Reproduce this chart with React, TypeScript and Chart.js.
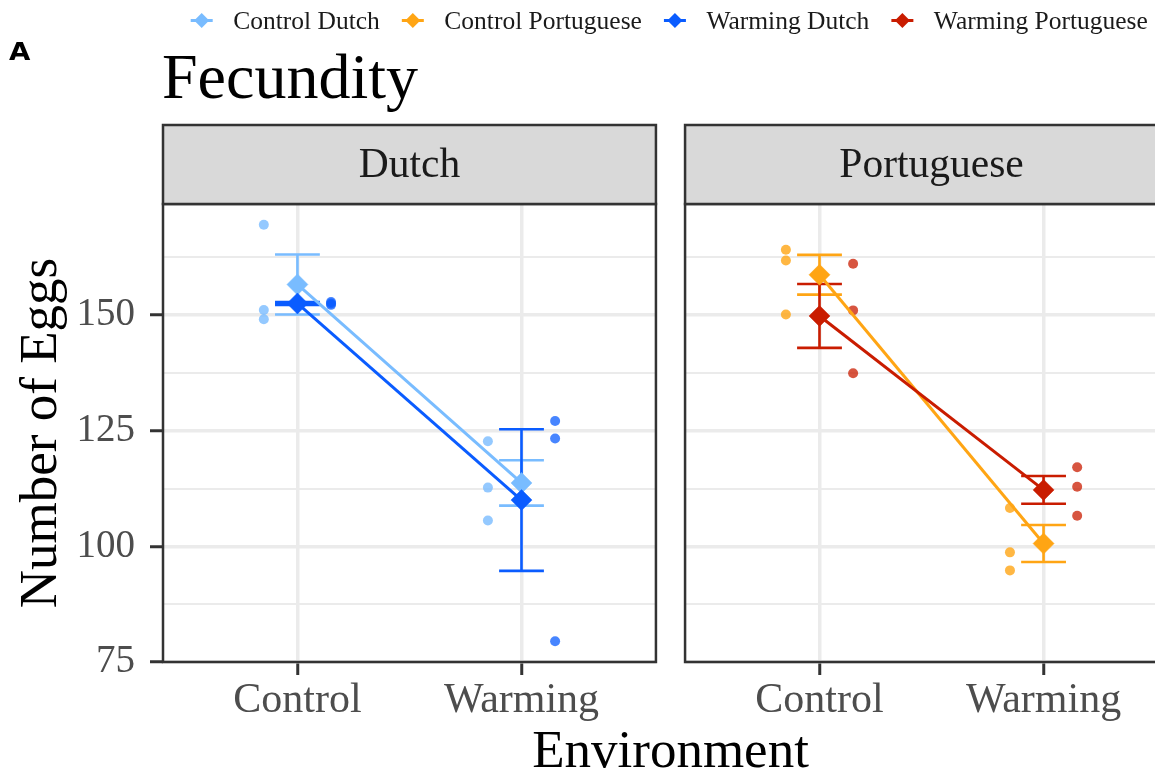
import React, { useEffect, useRef } from 'react';
import { Chart, registerables } from 'chart.js';

Chart.register(...registerables);

// Facets (populations) and x categories (test environment)
const populations = ['Dutch', 'Portuguese'];
const environments = ['Control', 'Warming'];

// y-axis breaks and limits
const yMajorTicks = [75, 100, 125, 150];
const yMinorTicks = [87.5, 112.5, 137.5, 162.5];
const yLimits = [75, 174];

// Series (selection regime x population), in legend order
const seriesNames = ['Control Dutch', 'Control Portuguese', 'Warming Dutch', 'Warming Portuguese'];
const seriesPopulations = ['Dutch', 'Portuguese', 'Dutch', 'Portuguese'];
const seriesRegimes = ['Control', 'Control', 'Warming', 'Warming'];
const seriesColors = ['#79BCFF', '#FFA514', '#0A5CFF', '#C91C00'];
const seriesDotColors = [
  'rgba(121,188,255,0.8)',
  'rgba(255,165,20,0.8)',
  'rgba(10,92,255,0.75)',
  'rgba(201,28,0,0.75)',
];

// Mean number of eggs +/- SE, per environment (Control, Warming)
const controlDutchMean = [156.6, 113.7];
const controlDutchSE = [6.5, 4.9];
const controlPortugueseMean = [158.7, 100.6];
const controlPortugueseSE = [4.3, 4.0];
const warmingDutchMean = [152.5, 110.0];
const warmingDutchSE = [0.3, 15.3];
const warmingPortugueseMean = [149.8, 112.2];
const warmingPortugueseSE = [6.9, 3.0];

// Replicate egg counts, per environment
const controlDutchEggsControl = [169.5, 151.1, 149.1];
const controlDutchEggsWarming = [122.7, 112.7, 105.6];
const controlPortugueseEggsControl = [164.1, 161.8, 150.1];
const controlPortugueseEggsWarming = [108.3, 98.7, 94.8];
const warmingDutchEggsControl = [152.2, 152.5, 152.8];
const warmingDutchEggsWarming = [127.1, 123.3, 79.5];
const warmingPortugueseEggsControl = [161.1, 151.0, 137.4];
const warmingPortugueseEggsWarming = [117.1, 112.9, 106.6];

const seriesMeans = [controlDutchMean, controlPortugueseMean, warmingDutchMean, warmingPortugueseMean];
const seriesSE = [controlDutchSE, controlPortugueseSE, warmingDutchSE, warmingPortugueseSE];
const seriesEggs = [
  [controlDutchEggsControl, controlDutchEggsWarming],
  [controlPortugueseEggsControl, controlPortugueseEggsWarming],
  [warmingDutchEggsControl, warmingDutchEggsWarming],
  [warmingPortugueseEggsControl, warmingPortugueseEggsWarming],
];

// Facet layout on one continuous x axis
const PANEL_EXPAND = 0.6;
const PANEL_SPAN = environments.length - 1 + 2 * PANEL_EXPAND;
const PANEL_GAP = 0.13;
const DODGE = 0.15;
const CAP = 0.1;
const panelLeft = (p: number) => 1 - PANEL_EXPAND + p * (PANEL_SPAN + PANEL_GAP);
const xOf = (p: number, e: number) => panelLeft(p) + PANEL_EXPAND + e;
const xTickValues: number[] = [];
populations.forEach((_, p) => environments.forEach((_, e) => xTickValues.push(xOf(p, e))));

const SERIF = '"Liberation Serif", "Times New Roman", serif';
const CANVAS_W = 1180;
const CANVAS_H = 776;
const PLOT_LEFT = 163;
const PLOT_RIGHT = 1178;
const PLOT_TOP = 204;
const PLOT_BOTTOM = 662;

function buildDatasets() {
  const means: any[] = [];
  const dots: any[] = [];
  seriesNames.forEach((name, i) => {
    const p = populations.indexOf(seriesPopulations[i]);
    const shift = seriesRegimes[i] === 'Control' ? -DODGE : DODGE;
    means.push({
      type: 'scatter',
      role: 'mean',
      label: name,
      showLine: true,
      data: environments.map((_, e) => ({ x: xOf(p, e), y: seriesMeans[i][e] })),
      borderColor: seriesColors[i],
      borderWidth: 3,
      pointStyle: 'rectRot',
      pointRadius: 10.5,
      pointHoverRadius: 10.5,
      pointBackgroundColor: seriesColors[i],
      pointBorderColor: seriesColors[i],
      pointBorderWidth: 0.5,
      order: seriesRegimes[i] === 'Warming' ? 0 : 1,
    });
    const pts: { x: number; y: number }[] = [];
    environments.forEach((_, e) => {
      seriesEggs[i][e].forEach((v) => pts.push({ x: xOf(p, e) + shift, y: v }));
    });
    dots.push({
      type: 'scatter',
      role: 'dots',
      label: name + ' replicates',
      data: pts,
      showLine: false,
      pointRadius: 5,
      pointHoverRadius: 5,
      pointBackgroundColor: seriesDotColors[i],
      pointBorderWidth: 0,
      order: 2,
    });
  });
  return [...means, ...dots];
}

function drawDiamond(ctx: CanvasRenderingContext2D, cx: number, cy: number, r: number) {
  ctx.beginPath();
  ctx.moveTo(cx, cy - r);
  ctx.lineTo(cx + r, cy);
  ctx.lineTo(cx, cy + r);
  ctx.lineTo(cx - r, cy);
  ctx.closePath();
  ctx.fill();
}

function makeFacetPlugin() {
  let errorBarsDrawn = false;

  const drawErrorBars = (chart: any) => {
    const { ctx } = chart;
    const xs = chart.scales.x;
    const ys = chart.scales.y;
    ctx.save();
    ctx.lineWidth = 2.6;
    seriesNames.forEach((_, i) => {
      const p = populations.indexOf(seriesPopulations[i]);
      ctx.strokeStyle = seriesColors[i];
      environments.forEach((_, e) => {
        const m = seriesMeans[i][e];
        const s = seriesSE[i][e];
        const x = xs.getPixelForValue(xOf(p, e));
        const xl = xs.getPixelForValue(xOf(p, e) - CAP);
        const xr = xs.getPixelForValue(xOf(p, e) + CAP);
        const yHi = ys.getPixelForValue(m + s);
        const yLo = ys.getPixelForValue(m - s);
        ctx.beginPath();
        ctx.moveTo(x, yHi);
        ctx.lineTo(x, yLo);
        ctx.moveTo(xl, yHi);
        ctx.lineTo(xr, yHi);
        ctx.moveTo(xl, yLo);
        ctx.lineTo(xr, yLo);
        ctx.stroke();
      });
    });
    ctx.restore();
  };

  return {
    id: 'facetDecor',
    beforeDatasetsDraw(chart: any) {
      errorBarsDrawn = false;
      const { ctx, chartArea } = chart;
      const xs = chart.scales.x;
      // blank space between the two facet panels
      ctx.save();
      ctx.fillStyle = '#FFFFFF';
      for (let p = 0; p < populations.length - 1; p++) {
        const a = xs.getPixelForValue(panelLeft(p) + PANEL_SPAN);
        const b = xs.getPixelForValue(panelLeft(p + 1));
        ctx.fillRect(a, chartArea.top - 2, b - a, chartArea.bottom - chartArea.top + 4);
      }
      ctx.restore();
    },
    beforeDatasetDraw(chart: any, args: any) {
      const ds = chart.data.datasets[args.index];
      if (ds.role === 'mean' && !errorBarsDrawn) {
        drawErrorBars(chart);
        errorBarsDrawn = true;
      }
    },
    afterDatasetsDraw(chart: any) {
      const { ctx, chartArea } = chart;
      const xs = chart.scales.x;
      ctx.save();
      // panel borders and strips
      populations.forEach((name, p) => {
        const a = xs.getPixelForValue(panelLeft(p));
        const b = xs.getPixelForValue(panelLeft(p) + PANEL_SPAN);
        ctx.strokeStyle = '#333333';
        ctx.lineWidth = 2.5;
        ctx.strokeRect(a, chartArea.top, b - a, chartArea.bottom - chartArea.top);
        const stripTop = 125;
        ctx.fillStyle = '#D9D9D9';
        ctx.fillRect(a, stripTop, b - a, chartArea.top - stripTop);
        ctx.strokeRect(a, stripTop, b - a, chartArea.top - stripTop);
        ctx.fillStyle = '#1A1A1A';
        ctx.font = '41.5px ' + SERIF;
        ctx.textAlign = 'center';
        ctx.textBaseline = 'alphabetic';
        ctx.fillText(name, (a + b) / 2, 177);
      });

      // plot title and panel tag
      ctx.textAlign = 'left';
      ctx.fillStyle = '#000000';
      ctx.font = '64px ' + SERIF;
      ctx.fillText('Fecundity', 162, 98);
      ctx.font = 'bold 24px "DejaVu Sans", "Liberation Sans", sans-serif';
      ctx.save();
      ctx.translate(9, 60);
      ctx.scale(1.15, 1);
      ctx.fillText('A', 0, 0);
      ctx.restore();

      // legend
      ctx.font = '25.5px ' + SERIF;
      let cx = 201.7;
      const cy = 20.5;
      seriesNames.forEach((name, i) => {
        ctx.strokeStyle = seriesColors[i];
        ctx.fillStyle = seriesColors[i];
        ctx.lineWidth = 3;
        ctx.beginPath();
        ctx.moveTo(cx - 11, cy);
        ctx.lineTo(cx + 11, cy);
        ctx.stroke();
        drawDiamond(ctx, cx, cy, 7.5);
        ctx.fillStyle = '#1A1A1A';
        ctx.fillText(name, cx + 31.5, 29.3);
        cx += 31.5 + ctx.measureText(name).width + 33;
      });
      ctx.restore();
    },
  };
}

export default function App() {
  const canvasRef = useRef<HTMLCanvasElement>(null);

  useEffect(() => {
    if (!canvasRef.current) return;
    const isMajor = (v: number) => yMajorTicks.includes(v);
    const chart = new Chart(canvasRef.current, {
      type: 'scatter',
      data: { datasets: buildDatasets() },
      options: {
        responsive: false,
        animation: false,
        events: [],
        layout: {
          autoPadding: false,
          padding: { left: 0, right: CANVAS_W - PLOT_RIGHT, top: PLOT_TOP, bottom: 0 },
        },
        plugins: {
          legend: { display: false },
          tooltip: { enabled: false },
          title: { display: false },
        },
        scales: {
          x: {
            type: 'linear',
            min: panelLeft(0),
            max: panelLeft(populations.length - 1) + PANEL_SPAN,
            afterBuildTicks: (s: any) => {
              s.ticks = xTickValues.map((v) => ({ value: v }));
            },
            afterFit: (s: any) => {
              s.height = CANVAS_H - PLOT_BOTTOM;
              s.paddingLeft = 0;
              s.paddingRight = 0;
            },
            ticks: {
              autoSkip: false,
              maxRotation: 0,
              padding: 1,
              color: '#4D4D4D',
              font: { family: SERIF, size: 42 },
              callback: (_v: any, i: number) => environments[i % environments.length],
            },
            grid: {
              color: '#EBEBEB',
              lineWidth: 3.5,
              tickLength: 13,
              tickColor: '#333333',
              tickWidth: 3,
            },
            border: { display: false },
            title: {
              display: true,
              text: 'Environment',
              color: '#000000',
              font: { family: SERIF, size: 53, lineHeight: 0.85 },
              padding: 0,
            },
          },
          y: {
            type: 'linear',
            min: yLimits[0],
            max: yLimits[1],
            afterBuildTicks: (s: any) => {
              s.ticks = [...yMajorTicks, ...yMinorTicks].sort((a, b) => a - b).map((v) => ({ value: v }));
            },
            afterFit: (s: any) => {
              s.width = PLOT_LEFT;
              s.paddingTop = 0;
              s.paddingBottom = 0;
            },
            ticks: {
              autoSkip: false,
              padding: 15,
              color: '#4D4D4D',
              font: { family: SERIF, size: 39 },
              callback: (v: any) => (isMajor(v) ? String(v) : ''),
            },
            grid: {
              color: '#EBEBEB',
              lineWidth: (c: any) => (c.tick && isMajor(c.tick.value) ? 3.5 : 2),
              tickLength: 13,
              tickColor: (c: any) => (c.tick && isMajor(c.tick.value) ? '#333333' : 'rgba(0,0,0,0)'),
              tickWidth: 3,
            },
            border: { display: false },
            title: {
              display: true,
              text: 'Number of Eggs',
              color: '#000000',
              font: { family: SERIF, size: 53, lineHeight: 1 },
              padding: { top: 15.5, bottom: 0 },
            },
          },
        },
      } as any,
      plugins: [makeFacetPlugin()],
    });
    return () => chart.destroy();
  }, []);

  return (
    <div
      style={{
        position: 'fixed',
        left: 0,
        top: 0,
        width: 1155,
        height: CANVAS_H,
        overflow: 'hidden',
        background: '#FFFFFF',
      }}
    >
      <canvas
        ref={canvasRef}
        width={CANVAS_W}
        height={CANVAS_H}
        style={{ display: 'block', width: CANVAS_W, height: CANVAS_H }}
      />
    </div>
  );
}
